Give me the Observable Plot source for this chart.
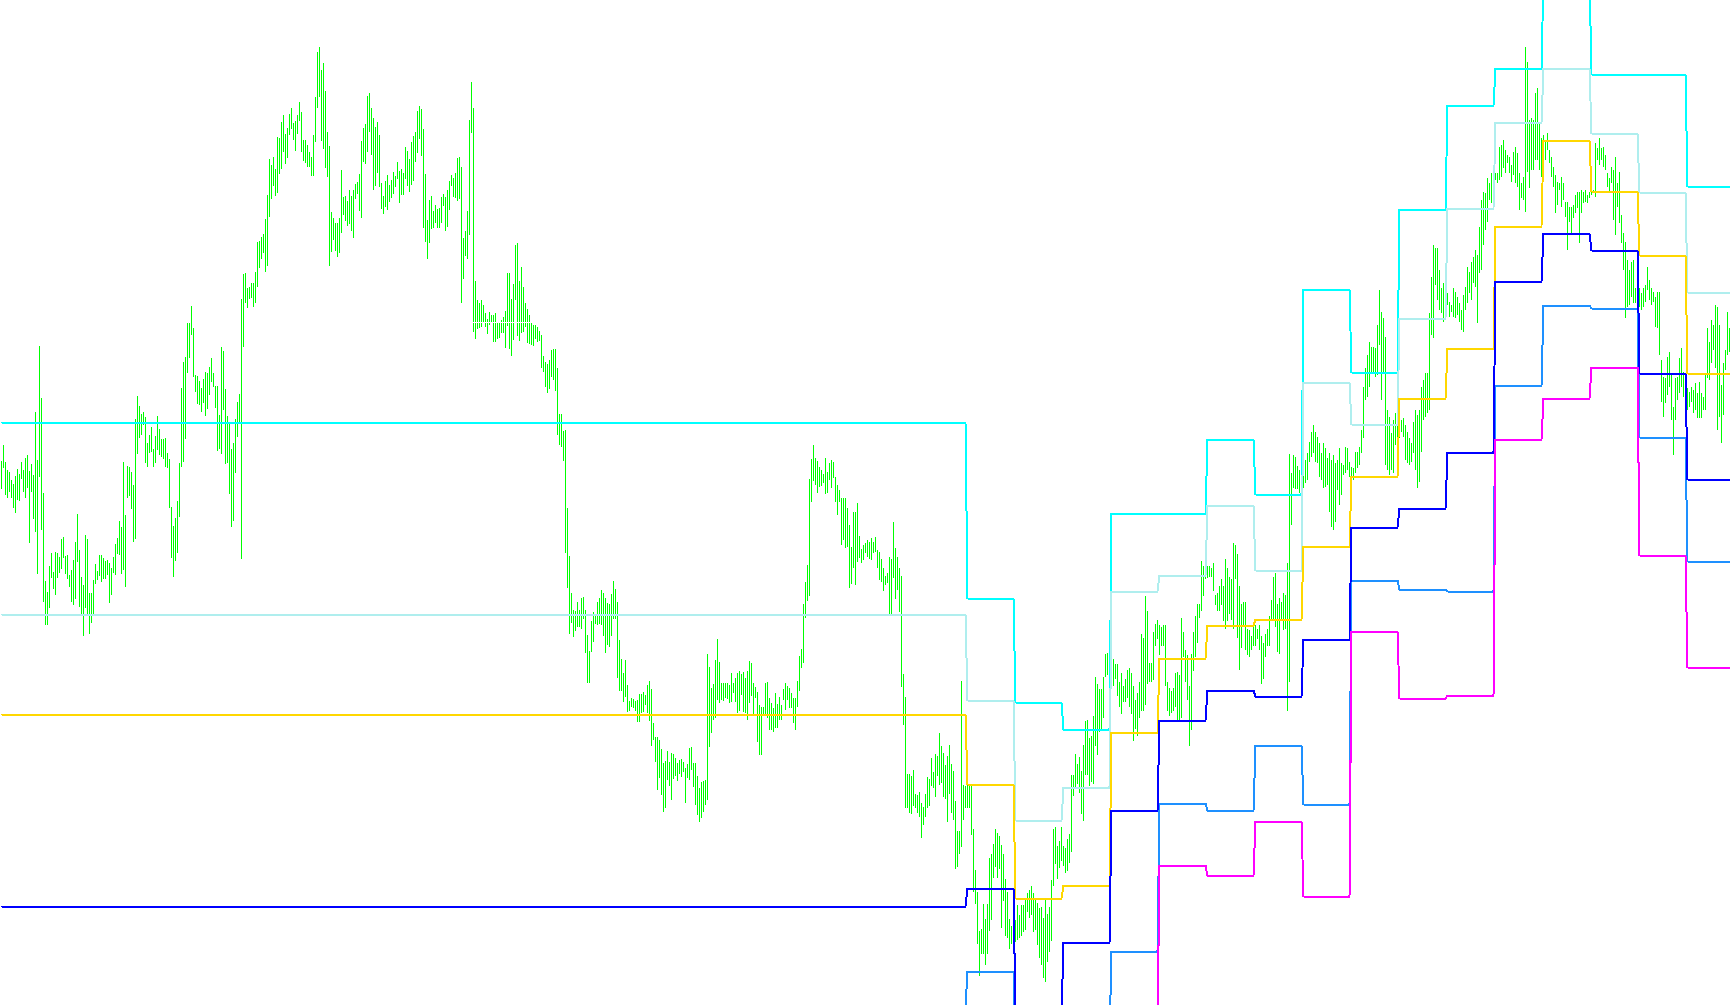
<!DOCTYPE html>
<html><head><meta charset="utf-8">
<script src="https://cdn.jsdelivr.net/npm/d3@7"></script>
<script src="https://cdn.jsdelivr.net/npm/@observablehq/plot@0.6"></script>
<style>
html,body{margin:0;padding:0;background:#fff;overflow:hidden;}
#chart svg{display:block;}
</style></head><body><div id="chart"></div>
<script>
// H1 bars: high / low prices
const high = [
1953.9,1955.5,1953.8,1953,1952.8,1952,1951.6,1952.4,1953.1,1952.6,
1953.8,1953,1954.2,1954.5,1952.9,1953.6,1952.5,1958.8,1954,1965.4,
1960.2,1950.7,1941.9,1940.8,1943.4,1944.7,1942.8,1944.8,1944.7,1944.3,
1946.1,1946.3,1944.4,1944.5,1942.5,1943,1944,1945.8,1948.6,1945,
1942.3,1941.5,1946.5,1946.1,1940.7,1940.7,1942,1943.6,1942.9,1944.5,
1944.5,1944.2,1943.9,1944,1943.7,1943.2,1944.3,1945.6,1946.2,1947.9,
1947.3,1953.8,1948.5,1953.4,1953.3,1952.8,1951.5,1958.1,1960.4,1959.4,
1958.6,1958.8,1958.3,1955.7,1956.5,1957.3,1955.1,1956.4,1958.4,1957.1,
1956.1,1956.1,1956.2,1954.7,1954.1,1949.3,1947.4,1948.2,1949.9,1953.7,
1961.2,1963.8,1964.3,1967.7,1967.7,1969.4,1967.2,1962.5,1962.4,1961.9,
1961.2,1962.1,1962.8,1962.7,1963.3,1964.2,1962.7,1961.4,1961.4,1958.5,
1965.3,1964.9,1961.1,1958.4,1957.8,1955.1,1955.7,1958.1,1959.8,1960.6,
1970.1,1972.6,1972.7,1971.2,1971.3,1971.7,1971.7,1972.8,1975.8,1975.9,
1976.3,1976.6,1978.1,1980.5,1984.1,1983.5,1984.3,1983.1,1986.3,1986.2,
1987.8,1988.5,1986.6,1987.2,1988.6,1989.2,1987.7,1987.9,1988.5,1989.8,
1988.8,1986,1986,1985.5,1984.8,1984.3,1986.5,1990.3,1994.8,1995.3,
1993,1993.7,1990.9,1986.8,1985.4,1978.8,1978.2,1977.7,1977.7,1978.2,
1983,1980.3,1980.4,1979.9,1981,1980.4,1981,1981.6,1981.8,1982.6,
1985.9,1987.2,1987.6,1990.4,1990.7,1989.2,1988.2,1987.3,1987.8,1986.5,
1981.7,1980.4,1981.9,1982.5,1981.5,1982,1982.8,1982.4,1983.8,1982.9,
1983.1,1982.7,1985.3,1984.9,1984.1,1985.8,1986.4,1986.8,1988.9,1989.4,
1989.1,1987.1,1982.6,1978,1980,1980.4,1978.9,1979.5,1979.1,1979.2,
1980.3,1980.6,1980.3,1981,1981.9,1982.5,1982.2,1982.7,1984.2,1984.3,
1983.3,1976.2,1976.9,1978.9,1988,1991.8,1989.2,1971.9,1970,1969.7,
1970,1969.5,1968.7,1968.1,1968.8,1968.5,1968.5,1968.7,1967.7,1967.7,
1968,1968.3,1968.9,1972.7,1972.7,1970.1,1971.6,1975.5,1975.7,1971.9,
1973.3,1971.3,1969.7,1969.1,1968.5,1967.7,1967.5,1967.5,1967.3,1966.9,
1966.5,1964.4,1963.8,1963.6,1964,1965,1965.1,1965.1,1963.2,1958.6,
1958.6,1956.9,1957,1949.2,1944.4,1940.7,1939,1938.9,1939.8,1939,
1940.2,1940.3,1939,1936.5,1934.9,1937.9,1938.8,1938.6,1939.8,1940.2,
1941,1940.7,1940.2,1939.7,1939.6,1940.6,1941.9,1941.1,1939.8,1936,
1934.1,1932.7,1934,1931.5,1929.9,1930.2,1930.1,1929.9,1930,1930.6,
1930.6,1930.8,1930.5,1931.5,1931.9,1931.1,1927.7,1926.3,1926.3,1926,
1925.1,1923.7,1923.9,1924.9,1923.8,1924.7,1924.6,1924.2,1923.7,1924,
1924.1,1923.8,1923.2,1923.6,1925.2,1925.3,1923.7,1923.7,1922.4,1921.2,
1921.8,1921.9,1922,1934.6,1933.3,1931.2,1931.6,1934,1936.1,1933.8,
1931.7,1931.7,1931.7,1931.7,1931.5,1932.7,1931.7,1932.2,1932.7,1932.9,
1932.6,1932.8,1932.2,1932.9,1933.9,1933.7,1931.7,1931.3,1930.8,1929.5,
1929.3,1929.3,1931.7,1931.8,1930.2,1929.7,1929.2,1930.7,1929.6,1930.3,
1929.5,1931.1,1931.7,1931.4,1931.2,1930.7,1930.2,1930.2,1931.9,1934.4,
1935.1,1939.6,1941.8,1943.5,1952.1,1954.1,1955.5,1954.2,1953.9,1953.3,
1953,1952.6,1954.2,1952.8,1953.7,1954,1953.8,1952.3,1951.5,1951,
1950.2,1950.2,1950.2,1949.2,1947.5,1945.3,1948.8,1948.8,1949.7,1946.4,
1945.1,1945.5,1945.7,1946,1945.8,1946.2,1945.8,1946.3,1945,1944.8,
1944.1,1943.2,1942.4,1942.7,1944.3,1944.1,1947.8,1945.2,1944.3,1943.2,
1942.4,1932.6,1930.3,1922.6,1922.6,1922.4,1923,1920.6,1920.5,1920.8,
1919.7,1919.3,1920.6,1922.3,1922.1,1924.2,1922.8,1924.6,1924.4,1926.7,
1925.4,1924.7,1923.5,1924.4,1925.5,1923.6,1922.9,1919.9,1916.9,1916.9,
1931.9,1921.5,1921.4,1921.5,1921.4,1921.4,1917.1,1913,1910.8,1906.9,
1907.1,1909.6,1908.1,1909.6,1914.2,1914.6,1915.6,1917.1,1916.7,1916.4,
1915.5,1914.6,1912.1,1910.8,1908.1,1907.4,1907.5,1908,1909.5,1908.5,
1909.5,1909.5,1910,1910.7,1911,1911.4,1910.7,1910.2,1909.7,1909.2,
1909.3,1908.2,1910,1908.6,1909.3,1912,1917.1,1917.3,1915.4,1915.9,
1917.3,1915.4,1915.2,1916.1,1916.6,1922.5,1922.5,1924.6,1923.6,1924.3,
1922.9,1925.5,1927.9,1928,1926.2,1926.4,1928.4,1932.3,1931.6,1931.1,
1931.1,1932.3,1934.6,1934.7,1936.8,1934.3,1934.1,1933.6,1933.6,1931.8,
1932.7,1931.4,1932.1,1933,1933.2,1932.7,1931.4,1930,1930.7,1931.8,
1936.6,1936.2,1940.4,1938.9,1933.7,1933.7,1936.8,1937.6,1938,1937.5,
1937.3,1937.5,1937.5,1931.8,1931.2,1930.9,1931.2,1932.7,1932.8,1932.5,
1938.2,1936.8,1935,1934.5,1931.4,1934.6,1936.8,1938.4,1939.6,1939.6,
1943.9,1943.4,1943.5,1943.4,1943.4,1943.2,1943.7,1940.5,1940.7,1941.4,
1942.1,1941.4,1944.1,1943.2,1942.3,1942.1,1945.7,1945.5,1944.6,1941.4,
1939.6,1939.8,1939.8,1937.1,1937,1936.4,1937.7,1937.5,1937.1,1937.5,
1936.4,1935.7,1936.6,1937.1,1938.4,1940,1942.3,1942.7,1939.6,1940.2,
1939.8,1940.7,1940.5,1943.7,1954.6,1952.7,1954.5,1954.3,1953.4,1953,
1955.5,1952.7,1954,1954.7,1955.8,1956.8,1957.5,1956.8,1956.3,1955.7,
1954.7,1955.7,1955.2,1954.2,1954.7,1954,1954.5,1953.7,1954,1955.2,
1953.7,1953.5,1955.3,1955.2,1953.8,1953.3,1953.2,1954.8,1954.8,1955.3,
1957,1961.3,1963.2,1964.5,1965.8,1965.3,1965.3,1965.2,1967.5,1971,
1968.8,1968.2,1966.3,1959,1958.3,1956.7,1958,1958.7,1958.3,1958,
1958,1958.2,1957.5,1956.8,1956.2,1955.7,1957.8,1959,1958.5,1959,
1961.3,1962,1962.7,1962.7,1968.7,1972.3,1975.5,1975.2,1975.2,1973,
1971.2,1971.7,1970.8,1970.7,1969.8,1969.5,1971.2,1970.8,1970.3,1969.7,
1969,1970.5,1971.3,1973.3,1972.8,1973.8,1974.3,1975,1974.5,1977.3,
1980,1980.8,1980.7,1982.2,1981.7,1982.7,1983.5,1982.7,1982.7,1985.3,
1985.5,1986,1985,1984.5,1984.3,1983.5,1984.8,1985.3,1984.7,1982.7,
1981.7,1982.3,1995.3,1993.8,1988,1988.2,1988,1990.7,1991.2,1987.8,
1986.2,1986.5,1986,1986.7,1985,1984.3,1983.3,1982.5,1981.8,1981.7,
1982.3,1981.7,1979.8,1979.8,1979.3,1979.3,1979.5,1980.5,1980.8,1980.8,
1981,1980.8,1981,1980.5,1980.8,1981.2,1981,1985.7,1985.2,1986.2,
1985.2,1985.3,1984.5,1982.7,1982.2,1983.3,1983,1984.3,1981.7,1982.8,
1978.5,1976.7,1975.8,1974,1973,1973.8,1974,1971.2,1971.8,1971.2,
1970.7,1971.2,1971.5,1973.3,1972,1971.2,1970.8,1970.3,1970.8,1970.8,
1964,1962.3,1962.2,1964.3,1964.8,1962.5,1959.3,1962.2,1962.3,1964.2,
1965.2,1962.8,1962.3,1961.2,1960.8,1961.3,1961,1961.7,1960.7,1961.8,
1960.7,1960.3,1962.7,1967.2,1965.8,1968,1967.5,1969.5,1969.3,1967.5,
1961.5,1963.7,1965,1968.8,1967.2
];
const low = [
1951.1,1953.2,1950.5,1950.2,1950.8,1950.2,1949.2,1948.7,1950,1949.9,
1952.1,1950.8,1950.2,1951.2,1945.7,1950.8,1948.1,1946.8,1942.6,1952.3,
1947,1939.8,1937.5,1937.5,1939.2,1942.2,1941.1,1940.5,1942.2,1942.7,
1943.1,1944.2,1942.6,1942.1,1941.3,1939.8,1939.5,1940.1,1943.8,1939.3,
1938.5,1936.4,1939.2,1938.5,1936.6,1937.7,1938.5,1941.6,1942,1942.4,
1941.8,1942.1,1942.1,1942.5,1939.7,1940.5,1942.7,1942.5,1944.6,1944.5,
1942.6,1943,1941.3,1950.2,1950.4,1949.1,1945.8,1946.1,1954.6,1956.2,
1956.5,1957.5,1953.7,1953.3,1954.7,1954.8,1953.3,1953.7,1955,1954.5,
1954.3,1954.1,1953.3,1953.2,1949.2,1944.2,1942.3,1943.9,1944.7,1948.3,
1953.3,1953.8,1956.1,1962.7,1964.2,1966.5,1962.3,1960.8,1959.6,1959.5,
1958.8,1959.7,1958.4,1959.1,1960.5,1961.8,1961.3,1959.2,1954.9,1955.1,
1954.6,1959,1953.6,1953.7,1950.6,1947.3,1947.9,1952.7,1956.3,1957.7,
1944.1,1965.3,1969.7,1969.2,1970.1,1970.2,1969.3,1969.7,1971.3,1973.2,
1974.1,1974.7,1972.8,1973.4,1978.3,1980.1,1981.4,1980.4,1980.7,1982.6,
1983.1,1984.8,1983.6,1984.2,1986.5,1987.1,1986,1984.9,1986.6,1987.9,
1984.8,1983.9,1983.7,1983.3,1983.3,1982.4,1982.4,1985.8,1989.2,1990.3,
1985.9,1985.1,1983.2,1982.3,1973.4,1974.8,1976,1974.9,1974.3,1974.7,
1976.7,1978.5,1977.9,1977.4,1977.6,1976.9,1976.2,1980.1,1980.6,1978.9,
1978.2,1983.8,1983.6,1984.8,1986.8,1984.5,1981,1981.4,1982.7,1981.3,
1979.1,1978.6,1979.3,1979,1979.8,1980.2,1980.6,1981.3,1982.1,1979.7,
1980.5,1980.5,1982.1,1981.4,1980.8,1981.5,1981.9,1983.8,1984.7,1986.1,
1984.4,1977.2,1975.8,1974.1,1975.7,1977.1,1977.2,1977.7,1977.2,1977.2,
1977.7,1979.4,1976.9,1977.3,1979,1981.4,1980.3,1980.2,1979.9,1980.1,
1969.7,1972.1,1974.4,1974.1,1976.5,1986.7,1966.8,1966.1,1967.1,1967.2,
1967.3,1967.8,1967.3,1966.6,1967.5,1967.8,1965.8,1965.8,1966.1,1966.2,
1966.7,1966.7,1965.2,1967.4,1965.1,1964.4,1966,1970,1966.4,1965.9,
1966.7,1966.8,1967.3,1965.7,1965.6,1965.5,1965.4,1966.1,1965.8,1965.9,
1963.2,1962.8,1961.3,1960.7,1961.1,1962.3,1962,1960.9,1956.5,1955.5,
1955.3,1953.9,1944.7,1941.2,1936.6,1937.7,1936.3,1936.9,1937.3,1937.3,
1937.1,1938.1,1934.7,1931.7,1931.7,1934.8,1935.8,1937.6,1937.5,1937.6,
1937.5,1936.4,1934.7,1935.5,1935.3,1936.4,1938.1,1938.1,1932.2,1930.9,
1930.9,1929.8,1930.3,1928.8,1928.9,1929.3,1929.2,1928.9,1927.8,1927.8,
1928.7,1928.8,1929.5,1928.7,1927.9,1925.4,1926,1923.8,1921,1922.2,
1920.5,1918.8,1919.2,1922,1921.4,1920,1922.1,1922.4,1921.9,1922.6,
1922.3,1922.8,1919.7,1922.2,1922,1923,1921.3,1919.5,1918.5,1917.8,
1918.2,1918.8,1919.5,1920,1925.3,1926.7,1928,1928.2,1930,1929.7,
1930,1929.9,1930.2,1930.1,1929.7,1929.8,1930.7,1929.8,1928.7,1928.9,
1930.5,1928.8,1928.7,1928,1929.7,1930.4,1928.4,1930.2,1925.8,1924.5,
1924.5,1928.6,1928.5,1928.2,1927,1927,1926.8,1927.2,1927.2,1928,
1928,1930,1929,1930,1929.2,1929.2,1927.7,1927,1929.3,1930.9,
1933.2,1933.7,1938.2,1939.9,1940.4,1949.8,1951.9,1951.5,1950.7,1951.3,
1951.4,1951.7,1950.6,1950.7,1952,1951.2,1952.2,1949.8,1948.5,1949.8,
1945.5,1946,1945.2,1945.3,1941.2,1941.6,1943.2,1941.5,1943.8,1944.2,
1943.7,1944,1944.7,1944.3,1944.1,1944,1944.7,1944.8,1943.2,1942,
1941.8,1940.9,1941.5,1941.7,1938.5,1938.5,1942.2,1940.1,1941,1938.8,
1931.3,1927.5,1919.2,1919.2,1918.7,1918.6,1919.4,1919.2,1918.7,1918.3,
1916.2,1917.5,1918.3,1919.2,1919.4,1921.4,1921.2,1920.3,1922.4,1921.5,
1921.7,1920.3,1920.1,1917.8,1920.6,1918.7,1918,1913.1,1913.3,1914.6,
1915.3,1918,1919.2,1919.2,1919.2,1916.5,1910.8,1909.6,1905.6,1902.4,
1904.6,1904.6,1903.5,1904.6,1906.9,1908,1912.2,1913.3,1912.2,1913.1,
1907.2,1909.9,1906.4,1906.2,1905.1,1905.6,1905.5,1905.8,1906,1906.2,
1906.4,1906.8,1907,1908.8,1908.2,1908.5,1906.8,1907,1905.5,1904.2,
1903.5,1902.2,1901.8,1903.8,1904.8,1905.9,1911.4,1913.6,1912.1,1913.2,
1913.9,1913.4,1912.7,1912.9,1913.7,1914.8,1920.4,1921.1,1921.6,1920.7,
1918.6,1917.9,1922.5,1922.5,1921.4,1921.8,1921.6,1925.4,1924.5,1926.8,
1927,1928.2,1932.3,1932.5,1931.2,1932.1,1931.4,1932.1,1930.4,1929.3,
1928.6,1929.8,1929.8,1930.2,1929.3,1928.6,1925.9,1927.1,1926.4,1928.2,
1928.9,1928.9,1929.5,1931.6,1931.8,1931.8,1932,1935.4,1936.1,1934.5,
1935.4,1935.4,1931.4,1928.9,1928.4,1928.7,1928.9,1929.3,1927.9,1928,
1928.2,1934.3,1931.8,1930,1925.4,1927,1932.9,1934.3,1935.7,1938.2,
1938.9,1940.4,1942.1,1942.2,1942.3,1942.3,1940.9,1939.5,1938.9,1938.9,
1939.5,1937.9,1937.1,1937.9,1938.6,1938,1937.1,1942.1,1936.2,1933,
1935.2,1937.3,1935,1934.5,1934.3,1935,1935.4,1935.4,1936.1,1935,
1931.6,1932.1,1934.3,1935.4,1935.4,1937.9,1937.9,1937.3,1934.8,1934.6,
1937.9,1937,1937.1,1928.9,1931.8,1947.5,1951.2,1951.1,1951.1,1950.7,
1950.7,1951.2,1951.7,1952,1953.8,1954.3,1954.7,1953.8,1953.7,1952.3,
1952,1951.2,1951.3,1951.5,1948.8,1947.3,1947,1947.8,1951,1949.5,
1950.5,1952.5,1952.7,1953,1952.3,1952,1952,1952.7,1953.2,1953.5,
1954.7,1956.2,1960,1960.3,1961.3,1962.7,1962.7,1962.3,1962.5,1965.5,
1960,1962.7,1953.5,1953,1952.5,1953,1952.7,1955.5,1955,1956.2,
1956.8,1956.3,1954,1953.7,1953.5,1953.8,1954.7,1953,1951.2,1951.8,
1954.8,1958,1958.3,1958.7,1959,1966.5,1966.2,1971.5,1970,1969,
1968.7,1967.8,1968,1969.5,1968.3,1968.8,1968.3,1968.2,1968.5,1967.8,
1967,1966.8,1969,1969.7,1970.7,1970,1971.7,1971.3,1967.7,1972.7,
1973,1975.5,1977,1977.8,1980,1979.7,1981.3,1982,1981.7,1982,
1982.3,1983.2,1982.7,1983.7,1982.7,1981.8,1982.5,1981.7,1981.3,1979,
1980.2,1980,1978.8,1982.8,1981.2,1983,1983,1984,1984,1983,
1982.3,1984.3,1984,1985,1983.7,1982.3,1981.3,1978.7,1979.5,1981,
1979.3,1980,1978.3,1975,1977.8,1976.7,1978.2,1978.7,1979.2,1975.7,
1978.7,1979.7,1979.8,1979.7,1980.2,1980.5,1980.7,1980.3,1984,1983.5,
1984,1983.3,1983,1981.3,1980.7,1981.7,1978,1976.5,1979.3,1977.7,
1975.7,1973,1968.2,1969.3,1969.5,1970.3,1969.7,1969.7,1969.7,1969.3,
1969,1969.3,1969.8,1971,1970,1969.5,1969.8,1967.3,1967.2,1964.5,
1959.8,1958.3,1959.7,1960.5,1961.3,1958,1954.5,1958,1960,1960.7,
1961.3,1960.3,1958.3,1959,1959.3,1959.8,1958.7,1959,1958.2,1958.2,
1958.2,1959,1959,1962.2,1962,1963.7,1965,1963.2,1957,1958.3,
1955.7,1958.5,1963,1964.5,1964.8
];

// first bar of each pivot period
const dayStart = [0,483,507,531,555,579,603,627,651,675,699,723,747,771,795,819,843];
// pivot levels per period
const r2    = [1957.8,1940.2,1929.8,1927.1,1948.7,1948.7,1956.1,1950.6,1971.1,1962.8,1979.1,1989.5,1993.2,2002.5,1992.6,1992.6,1981.4];
const r1    = [1938.6,1930,1918,1921.3,1940.9,1942.5,1949.5,1943,1961.8,1957.6,1968.2,1979.2,1987.8,1993.2,1986.7,1980.8,1970.8];
const pivot = [1928.6,1921.6,1910.2,1911.5,1926.8,1934.2,1937.5,1938.1,1945.4,1952.4,1960.2,1965.2,1977.4,1986,1980.9,1974.5,1962.7];
const s1    = [1909.4,1911.2,1898.4,1905.8,1919,1928,1931,1930.4,1936.1,1947.3,1949.2,1954.8,1971.9,1976.7,1975,1962.7,1952.1];
const s2    = [1899.3,1902.9,1890.6,1895.9,1904.9,1919.7,1919,1925.5,1919.6,1942,1941.1,1940.9,1961.5,1969.5,1969.2,1956.3,1943.9];
const s3    = [1880.1,1892.7,1878.8,1890.2,1897.2,1913.5,1912.5,1917.9,1910.4,1936.9,1930.2,1930.5,1956.1,1960.2,1963.3,1944.5,1933.3];
// white level line hiding part of the bars
const hiddenLevel = [{from: 236, to: 271, price: 1967.8}];

const levelSeries = [
  {name: "R2", values: r2, color: "#00ffff"},
  {name: "R1", values: r1, color: "#afeeee"},
  {name: "P",  values: pivot, color: "#ffd700"},
  {name: "S2", values: s2, color: "#1e90ff"},
  {name: "S1", values: s1, color: "#0000ff"},
  {name: "S3", values: s3, color: "#ff00ff"}
];

const bars = high.map((h, i) => ({i, high: h, low: low[i]}));
function periodOf(i) {
  let d = 0;
  while (d + 1 < dayStart.length && dayStart[d + 1] <= i) d++;
  return d;
}

const chart = Plot.plot({
  width: 1730,
  height: 1005,
  margin: 0,
  style: {background: "#ffffff", overflow: "hidden"},
  x: {domain: [-0.5, high.length - 0.5], axis: null},
  y: {domain: [1899.5, 2000], axis: null},
  marks: [
    Plot.ruleX(bars, {x: "i", y1: "low", y2: "high", stroke: "#00ff00", strokeWidth: 1, shapeRendering: "crispEdges"}),
    Plot.ruleY(hiddenLevel, {y: "price", x1: "from", x2: "to", stroke: "#ffffff", strokeWidth: 1, shapeRendering: "crispEdges"}),
    ...levelSeries.map(s => Plot.line(
      bars.map(b => ({i: b.i, v: s.values[periodOf(b.i)]})),
      {x: "i", y: "v", stroke: s.color, strokeWidth: 2, clip: true, shapeRendering: "crispEdges"}
    ))
  ]
});
document.getElementById("chart").append(chart);
</script></body></html>
